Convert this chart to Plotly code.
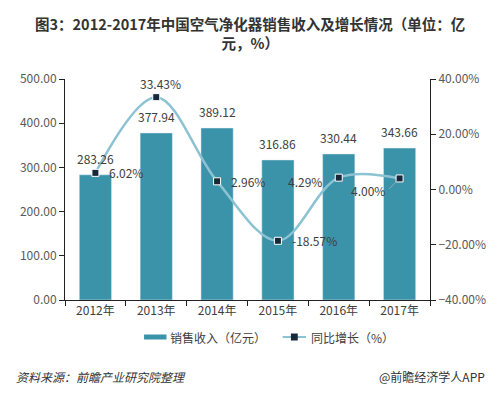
import plotly.graph_objects as go

years = ["2012年", "2013年", "2014年", "2015年", "2016年", "2017年"]
revenue = [283.26, 377.94, 389.12, 316.86, 330.44, 343.66]
growth = [6.02, 33.43, 2.96, -18.57, 4.29, 4.00]

BAR = "#3b93aa"
LINE = "#8cc2d2"
MARK = "#17283a"
TXT = "#404040"
FONT = "Noto Sans CJK SC"

fig = go.Figure()
fig.add_trace(go.Bar(x=years, y=revenue, marker_color=BAR, width=0.53,
                     name="销售收入（亿元）", showlegend=False, hoverinfo="skip"))
fig.add_trace(go.Scatter(x=years, y=growth, yaxis="y2", mode="lines+markers",
                         line=dict(color=LINE, width=2.5, shape="spline", smoothing=1.0),
                         marker=dict(symbol="square", size=7, color=MARK,
                                     line=dict(color="white", width=1)),
                         name="同比增长（%）", showlegend=False, hoverinfo="skip"))

ann = []
for x, v in zip(years, revenue):
    ann.append(dict(x=x, y=v, xref="x", yref="y", text=f"{v:.2f}", showarrow=False,
                    yanchor="bottom", yshift=6, font=dict(size=12, color=TXT, family=FONT)))

# per-point label placement for growth labels
offs = [(12, 0, "left", "middle"), (4, 3, "center", "bottom"), (12, 0, "left", "middle"),
        (12, 0, "left", "middle"), (-15, -4, "right", "middle"), (-13, -12, "right", "middle")]
for (x, v), (dx, dy, xa, ya) in zip(zip(years, growth), offs):
    ann.append(dict(x=x, y=v, xref="x", yref="y2", text=f"{v:.2f}%", showarrow=False,
                    xanchor=xa, yanchor=ya, xshift=dx, yshift=dy,
                    font=dict(size=12, color=TXT, family=FONT)))
# leader line for last label
ann.append(dict(x=years[-1], y=growth[-1], xref="x", yref="y2", text="", showarrow=True,
                ax=-12, ay=12, arrowhead=0, arrowwidth=1, arrowcolor="#9aa5ab",
                standoff=4))

# helpers: screen pixel -> paper coords (plot area 59..433 x, 79..300 y on screen)
def px_x(p):
    return (p - 59) / 374
def px_y(p):
    return (300 - p) / 221

shapes = [
    dict(type="rect", xref="paper", yref="paper", x0=px_x(140), x1=px_x(163),
         y0=px_y(339.5), y1=px_y(334.5), fillcolor=BAR, line=dict(width=0)),
    dict(type="line", xref="paper", yref="paper", x0=px_x(282), x1=px_x(306),
         y0=px_y(337), y1=px_y(337), line=dict(color=LINE, width=2)),
    dict(type="rect", xref="paper", yref="paper", x0=px_x(290.5), x1=px_x(297.5),
         y0=px_y(340.5), y1=px_y(333.5), fillcolor=MARK, line=dict(width=0)),
]
ann.append(dict(x=px_x(165), y=px_y(337), xref="paper", yref="paper", text="销售收入（亿元）",
                showarrow=False, xanchor="left", yanchor="middle",
                font=dict(size=12, color=TXT, family=FONT)))
ann.append(dict(x=px_x(309), y=px_y(337), xref="paper", yref="paper", text="同比增长（%）",
                showarrow=False, xanchor="left", yanchor="middle",
                font=dict(size=12, color=TXT, family=FONT)))
# footer
ann.append(dict(x=px_x(7), y=px_y(376), xref="paper", yref="paper",
                text="<i>资料来源：前瞻产业研究院整理</i>", showarrow=False,
                xanchor="left", yanchor="middle", font=dict(size=12, color="#333333", family=FONT)))
ann.append(dict(x=px_x(491), y=px_y(376), xref="paper", yref="paper",
                text="@前瞻经济学人APP", showarrow=False,
                xanchor="right", yanchor="middle", font=dict(size=12, color="#333333", family=FONT)))
# title
ann.append(dict(x=px_x(249), y=px_y(33), xref="paper", yref="paper",
                text="<b>图3：2012-2017年中国空气净化器销售收入及增长情况（单位：亿<br>元，%）</b>",
                showarrow=False, xanchor="center", yanchor="middle", align="center",
                font=dict(size=14.5, color="#333333", family=FONT)))

# page body has an 8px margin: figure is 490x385 and offset by 8px on screen
fig.update_layout(
    width=490, height=385,
    margin=dict(l=51, r=65, t=71, b=93),
    paper_bgcolor="white", plot_bgcolor="white",
    font=dict(family=FONT, size=12, color=TXT),
    xaxis=dict(type="category", showline=True, linecolor="#222222", linewidth=1,
               ticks="outside", tickson="boundaries", ticklen=5, tickcolor="#222222",
               tickfont=dict(size=12, color=TXT), showgrid=False),
    yaxis=dict(range=[0, 500], dtick=100, tickformat=".2f", showline=True,
               linecolor="#222222", linewidth=1, ticks="outside", ticklen=5,
               tickcolor="#222222", showgrid=False, zeroline=False,
               tickfont=dict(size=12, color="#595959")),
    yaxis2=dict(range=[-40, 40], dtick=20, tickformat=".2f", ticksuffix="%",
                overlaying="y", side="right", showline=True, linecolor="#222222",
                linewidth=1, ticks="outside", ticklen=5, tickcolor="#222222",
                showgrid=False, zeroline=False,
                tickfont=dict(size=12, color="#595959")),
    annotations=ann, shapes=shapes,
    showlegend=False,
)

fig.write_html("out.html")
